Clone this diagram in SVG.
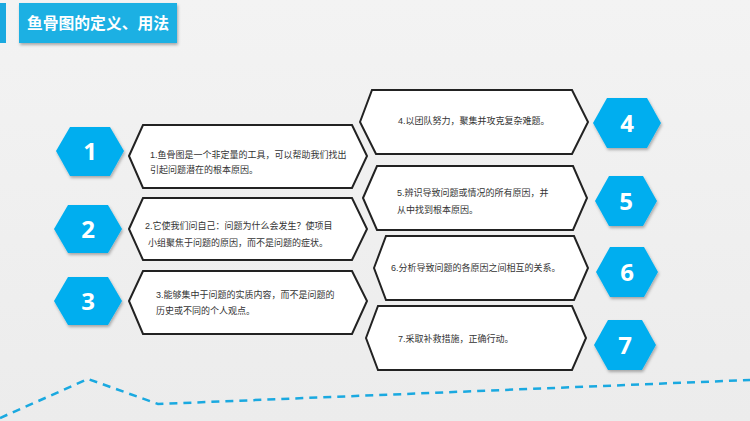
<svg xmlns="http://www.w3.org/2000/svg" width="750" height="421" viewBox="0 0 750 421">
<defs>
<linearGradient id="bg" x1="0" y1="0" x2="0" y2="1"><stop offset="0" stop-color="#f3f3f3"/><stop offset="1" stop-color="#ececec"/></linearGradient>
<filter id="sh" x="-20%" y="-20%" width="140%" height="140%"><feDropShadow dx="1" dy="2" stdDeviation="1.5" flood-opacity="0.3"/></filter>
</defs>
<style>
.box{fill:#fff;stroke:#222;stroke-width:2}
.hex{fill:#00aeef}
.num{fill:#fff;font:bold 24px "Open Sans","Liberation Sans",sans-serif;text-anchor:middle}
.t{fill:#333;font:9px "Liberation Sans","Noto Sans CJK SC",sans-serif}
</style>
<rect width="750" height="421" fill="url(#bg)"/>
<rect x="0" y="3" width="6" height="40" fill="#1aa9e0"/>
<rect x="19" y="3" width="158" height="40" fill="#1fb0e3" filter="url(#sh)"/>
<text x="27" y="29" fill="#fff" font-family="Liberation Sans,Noto Sans CJK SC,sans-serif" font-size="15.5" font-weight="bold" textLength="142" lengthAdjust="spacingAndGlyphs">鱼骨图的定义、用法</text>
<g id="connectors">
<polyline points="0,418 88,379 158,404 750,380" fill="none" stroke="#1aa9e0" stroke-width="2.5" stroke-dasharray="8,6"/>
</g>
<g id="n1"><polygon class="hex" filter="url(#sh)" points="56,151 70,127 110,127 124,151 110,176 70,176"/><text class="num" x="90" y="160">1</text>
<polygon class="box" points="129,156 143,125 352,125 367,156 352,188 143,188"/><text class="t" x="150" y="158">1.鱼骨图是一个非定量的工具，可以帮助我们找出</text><text class="t" x="150" y="173">引起问题潜在的根本原因。</text></g>
<g id="n2"><polygon class="hex" filter="url(#sh)" points="54,229 68,205 108,205 122,229 108,253 68,253"/><text class="num" x="88" y="238">2</text>
<polygon class="box" points="129,229 143,198 352,198 367,229 352,260 143,260"/><text class="t" x="145" y="229">2.它使我们问自己：问题为什么会发生？使项目</text><text class="t" x="148" y="246">小组聚焦于问题的原因，而不是问题的症状。</text></g>
<g id="n3"><polygon class="hex" filter="url(#sh)" points="54,301 68,277 108,277 122,301 108,325 68,325"/><text class="num" x="88" y="310">3</text>
<polygon class="box" points="129,301 143,271 352,271 367,301 352,334 143,334"/><text class="t" x="156" y="298">3.能够集中于问题的实质内容，而不是问题的</text><text class="t" x="156" y="314">历史或不同的个人观点。</text></g>
<g id="n4"><polygon class="box" points="360,122 372,90 572,90 588,122 572,154 376,154"/><text class="t" x="398" y="124">4.以团队努力，聚集并攻克复杂难题。</text>
<polygon class="hex" filter="url(#sh)" points="593,123 607,98 647,98 661,123 647,148 607,148"/><text class="num" x="627" y="132">4</text></g>
<g id="n5"><polygon class="box" points="363,198 377,166 573,166 587,198 573,230 377,230"/><text class="t" x="397" y="196">5.辨识导致问题或情况的所有原因，并</text><text class="t" x="397" y="213">从中找到根本原因。</text>
<polygon class="hex" filter="url(#sh)" points="595,201 609,176 643,176 657,201 643,226 609,226"/><text class="num" x="626" y="210">5</text></g>
<g id="n6"><polygon class="box" points="374,268 386,236 574,236 588,268 574,300 386,300"/><text class="t" x="391" y="271">6.分析导致问题的各原因之间相互的关系。</text>
<polygon class="hex" filter="url(#sh)" points="596,272 610,247 644,247 658,272 644,297 610,297"/><text class="num" x="627" y="281">6</text></g>
<g id="n7"><polygon class="box" points="366,338 378,306 572,306 586,338 572,370 378,370"/><text class="t" x="398" y="342">7.采取补救措施，正确行动。</text>
<polygon class="hex" filter="url(#sh)" points="594,345 608,320 642,320 656,345 642,370 608,370"/><text class="num" x="625" y="354">7</text></g>
</svg>
